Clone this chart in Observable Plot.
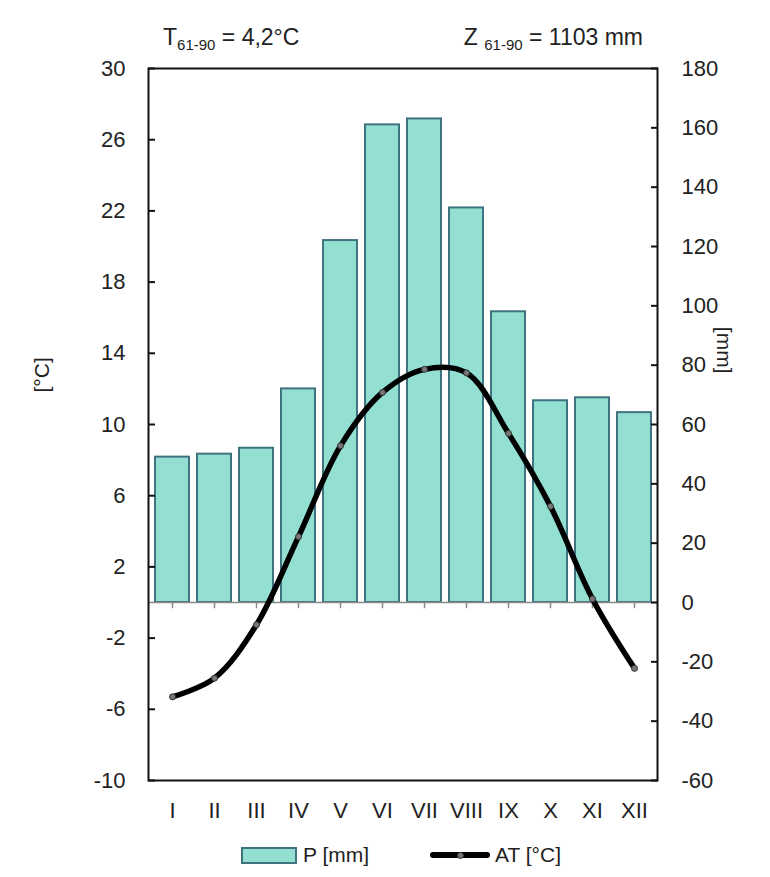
<!DOCTYPE html>
<html>
<head>
<meta charset="utf-8">
<script src="https://cdn.jsdelivr.net/npm/d3@7"></script>
<script src="https://cdn.jsdelivr.net/npm/@observablehq/plot@0.6"></script>
<style>
  html, body { margin: 0; padding: 0; background: #fff; }
  body { width: 770px; font-family: "Liberation Sans Narrow", "Arial Narrow", "Liberation Sans", Arial, sans-serif; color: #222; }
  #title { position: relative; height: 48px; font-size: 23px; }
  #title .t { position: absolute; top: 24px; white-space: nowrap; }
  #title sub { font-size: 15px; vertical-align: -5px; line-height: 0; }
  #legend { position: relative; height: 42px; font-size: 21px; }
  .lg { position: absolute; top: 8px; display: flex; align-items: center; white-space: nowrap; }
  .sw-rect { width: 52px; height: 13px; background: #93dfd2; border: 2px solid #3f7380; margin-right: 6px; }
  .sw-line { position: relative; width: 60px; height: 6px; background: #000; border-radius: 3px; margin-right: 5px; }
  .sw-line::after { content: ""; position: absolute; left: 27px; top: 0px; width: 5px; height: 5px; border-radius: 50%; background: #777; border: 0.5px solid #333; }
</style>
</head>
<body>
<div id="title">
  <span class="t" style="left:163px">T<sub>61-90</sub> = 4,2°C</span>
  <span class="t" style="right:127px">Z <sub>61-90</sub> = 1103 mm</span>
</div>
<div id="chart"></div>
<div id="legend">
  <div class="lg" style="left:241px"><div class="sw-rect"></div>P [mm]</div>
  <div class="lg" style="left:430px"><div class="sw-line"></div>AT [°C]</div>
</div>
<script>
const months = ["I", "II", "III", "IV", "V", "VI", "VII", "VIII", "IX", "X", "XI", "XII"];
const precipMM = [49, 50, 52, 72, 122, 161, 163, 133, 98, 68, 69, 64];
const tempC = [-5.3, -4.25, -1.25, 3.7, 8.8, 11.8, 13.1, 12.9, 9.5, 5.4, 0.2, -3.7];
const tempTicks = [-10, -6, -2, 2, 6, 10, 14, 18, 22, 26, 30];
const mmTicks = [-60, -40, -20, 0, 20, 40, 60, 80, 100, 120, 140, 160, 180];
const mmPerDegree = 6;

const rows = months.map((m, i) => ({month: m, mm: precipMM[i], t: tempC[i]}));
const font = "Liberation Sans Narrow, Arial Narrow, Liberation Sans, Arial, sans-serif";

const chart = Plot.plot({
  width: 770,
  height: 787,
  marginTop: 20,
  marginBottom: 55,
  marginLeft: 148,
  marginRight: 113,
  style: {fontFamily: font, fontSize: "22px", color: "#222", background: "#fff", overflow: "visible"},
  x: {type: "band", domain: months, paddingInner: 0.2, paddingOuter: 0.1, align: 0.5},
  y: {domain: [-10, 30]},
  marks: [
    Plot.barY(rows, {x: "month", y1: 0, y2: d => d.mm / mmPerDegree, fill: "#93dfd2", stroke: "#3f7380", strokeWidth: 2}),
    Plot.ruleY([0], {stroke: "#8a8a8a", strokeWidth: 1.5}),
    Plot.ruleX(months, {x: d => d, y1: 0, y2: -0.35, stroke: "#8a8a8a", strokeWidth: 1.5}),
    Plot.line(rows, {x: "month", y: "t", curve: "catmull-rom", stroke: "#000", strokeWidth: 5.5, strokeLinecap: "round"}),
    Plot.dot(rows, {x: "month", y: "t", r: 3, fill: "#777", stroke: "#333", strokeWidth: 1}),
    Plot.frame({stroke: "#111", strokeWidth: 2}),
    // left axis (°C)
    Plot.axisY({anchor: "left", ticks: tempTicks, tickSize: 0, tickPadding: 23, tickFormat: d => String(d), label: null, fontSize: 22, fill: "#222"}),
    Plot.axisY({anchor: "left", ticks: tempTicks, tickSize: -7, tickFormat: () => "", label: null, strokeWidth: 2, stroke: "#111"}),
    // right axis (mm)
    Plot.axisY({anchor: "right", ticks: mmTicks.map(v => v / mmPerDegree), tickSize: 0, tickPadding: 24, tickFormat: d => String(Math.round(d * mmPerDegree)), label: null, fontSize: 22, fill: "#222"}),
    Plot.axisY({anchor: "right", ticks: mmTicks.map(v => v / mmPerDegree), tickSize: -7, tickFormat: () => "", label: null, strokeWidth: 2, stroke: "#111"}),
    // x axis labels
    Plot.axisX({anchor: "bottom", tickSize: 0, tickPadding: 22, label: null, fontSize: 22, fill: "#222"}),
    Plot.text(["[°C]"], {frameAnchor: "left", dx: -106, dy: -32, rotate: -90, fontSize: 21, fill: "#222"}),
    Plot.text(["[mm]"], {frameAnchor: "right", dx: 66, dy: -51, rotate: 90, fontSize: 21, fill: "#222"})
  ]
});
document.getElementById("chart").appendChild(chart);
</script>
</body>
</html>
